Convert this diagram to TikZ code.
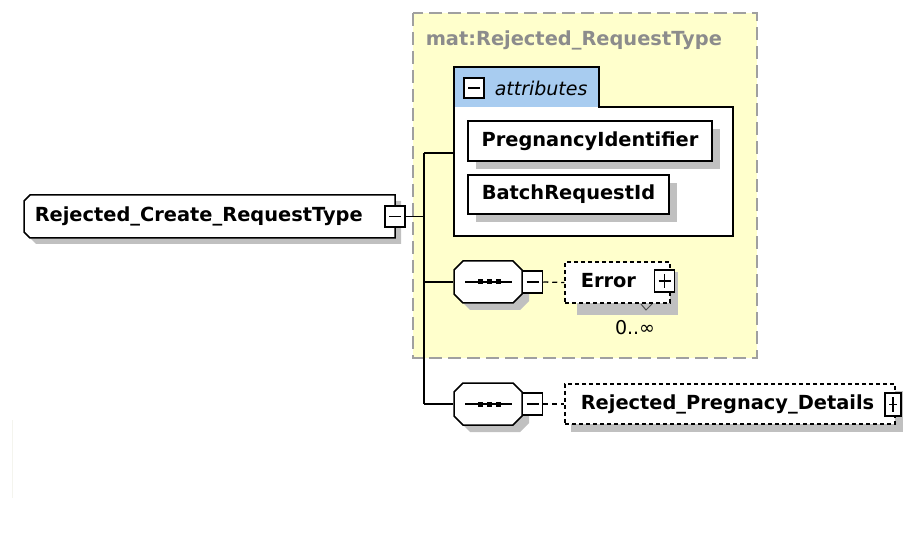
\documentclass[tikz,border=0pt]{standalone}
\usepackage{fontspec}
\setmainfont{DejaVu Sans}
\usetikzlibrary{calc}
\definecolor{ybg}{HTML}{FFFFCC}
\definecolor{tabblue}{HTML}{A8CCF0}
\definecolor{shade}{HTML}{C0C0C0}
\definecolor{bordgray}{HTML}{A0A0A0}
\definecolor{matgray}{HTML}{8C8C8C}
\definecolor{faint}{HTML}{F4F4EE}
\begin{document}
\begin{tikzpicture}[x=1pt,y=-1pt,line width=1.5pt,
  txt/.style={font=\fontsize{19.4}{22}\selectfont\bfseries, inner sep=0pt},
  shad/.style={fill=shade, draw=none},
  elbox/.style={txt, draw=black, fill=white, line width=1.5pt},
  dbox/.style={draw=black, fill=white, line width=1.3pt, dash pattern=on 4pt off 3pt},
  btnminus/.style={draw=black, fill=white, line width=1.5pt, minimum width=20pt, minimum height=21pt, inner sep=0pt,
    path picture={\draw[line width=1.7pt] ([xshift=4pt]path picture bounding box.west) -- ([xshift=-4pt]path picture bounding box.east);}},
  btnplus/.style={draw=black, fill=white, line width=1.5pt, minimum width=20pt, minimum height=21pt, inner sep=0pt,
    path picture={\draw[line width=1.7pt] ([xshift=4pt]path picture bounding box.west) -- ([xshift=-4pt]path picture bounding box.east);
                  \draw[line width=1.7pt] ([yshift=-4pt]path picture bounding box.north) -- ([yshift=4pt]path picture bounding box.south);}},
  hold/.style={inner sep=0pt, draw=none},
  conn/.style={draw=black, line width=1.5pt},
  dconn/.style={draw=black, line width=1.3pt, dash pattern=on 5pt off 4pt},
]
\useasboundingbox (0,0) rectangle (903,540);
\fill[white] (0,0) rectangle (903,540);
\draw[faint, line width=1pt] (12,420) -- (12,498);

% ---- type group background
\filldraw[fill=ybg, draw=bordgray, dash pattern=on 13pt off 6pt, line width=1.6pt] (413,13) rectangle (757,358);
\node[txt, text=matgray, anchor=west] (mat) at (425,40) {mat:Rejected\_RequestType};

% ---- root element
\fill[shad] (36,201) -- (401,201) -- (401,244) -- (36,244) -- (30,238) -- (30,207) -- cycle;
\draw[fill=white] (30,195) -- (395,195) -- (395,238) -- (30,238) -- (24,232) -- (24,201) -- cycle;
\node[txt, anchor=west] (root) at (34,216.5) {Rejected\_Create\_RequestType};
\node[btnminus] (rootbtn) at (395,216.5) {};

% ---- attributes
\fill[tabblue] (454,67) rectangle (599,107);
\fill[white] (454,107) rectangle (733,236);
\draw (454,236) -- (454,67) -- (599,67) -- (599,107) -- (733,107) -- (733,236) -- cycle;
\node[hold, minimum width=279pt, minimum height=169pt] (attrs) at (593.5,151.5) {};
\node[btnminus, minimum width=20pt, minimum height=20pt] (attrbtn) at (474,88) {};
\node[font=\fontsize{19}{22}\selectfont\itshape, inner sep=0pt, anchor=west] (attrlbl) at (494,88) {attributes};

\fill[shad] (476,129) rectangle (720,169);
\node[elbox, minimum width=244pt, minimum height=40pt] (pid) at (590,141) {PregnancyIdentifier};
\fill[shad] (476,183) rectangle (677,222);
\node[elbox, minimum width=201pt, minimum height=39pt] (bid) at (568.5,194.5) {BatchRequestId};

% ---- sequence 1
\fill[shad] (470,268) -- (520,268) -- (529,277) -- (529,301) -- (520,310) -- (470,310) -- (461,301) -- (461,277) -- cycle;
\draw[fill=white] (463,261) -- (513,261) -- (522,270) -- (522,294) -- (513,303) -- (463,303) -- (454,294) -- (454,270) -- cycle;
\node[hold, minimum width=68pt, minimum height=42pt] (seq1) at (488,282) {};
\draw[line width=1.3pt] (465,282) -- (512,282);
\foreach \xx in {480,489,498} \fill (\xx-2.5,279.5) rectangle +(5,5);
\node[btnminus, minimum height=22pt] (seq1btn) at (532.5,282) {};

% ---- Error (0..unbounded)
\fill[shad] (577,272) rectangle (678,315);
\node[dbox, minimum width=105pt, minimum height=41pt] (err) at (617.5,282.5) {};
\node[txt, anchor=west] (errlbl) at (580,281) {Error};
\node[btnplus, minimum width=20pt, minimum height=22pt] (errbtn) at (664.5,281) {};
\draw[line width=1pt, black!70] (641,304) -- (646,310) -- (652,304);
\node[font=\fontsize{19}{22}\selectfont, inner sep=0pt] (occ) at (635,328) {0..∞};

% ---- sequence 2
\fill[shad] (470,390) -- (520,390) -- (529,399) -- (529,423) -- (520,432) -- (470,432) -- (461,423) -- (461,399) -- cycle;
\draw[fill=white] (463,383) -- (513,383) -- (522,392) -- (522,416) -- (513,425) -- (463,425) -- (454,416) -- (454,392) -- cycle;
\node[hold, minimum width=68pt, minimum height=42pt] (seq2) at (488,404) {};
\draw[line width=1.3pt] (465,404) -- (512,404);
\foreach \xx in {480,489,498} \fill (\xx-2.5,401.5) rectangle +(5,5);
\node[btnminus, minimum height=22pt] (seq2btn) at (532.5,404) {};

% ---- Rejected_Pregnacy_Details
\fill[shad] (571,391) rectangle (903,432);
\node[dbox, minimum width=330pt, minimum height=40pt] (rpd) at (730,404) {};
\node[txt, anchor=west] (rpdlbl) at (580,404) {Rejected\_Pregnacy\_Details};
\node[btnplus, minimum width=16pt, minimum height=23pt] (rpdbtn) at (893,404.5) {};

% ---- connectors
\coordinate (vtop) at (424,153);
\coordinate (vroot) at (424,216.5);
\coordinate (vseq1) at (424,282);
\coordinate (vbot) at (424,404);
\draw[conn] (vtop) -- (vbot);
\draw[conn] (rootbtn.east) -- (vroot);
\draw[conn] (vtop) -- (vtop -| attrs.west);
\draw[conn] (vseq1) -- (seq1.west);
\draw[conn] (vbot) -- (seq2.west);
\draw[dconn] (seq1btn.east) -- (err.west);
\draw[dconn] (seq2btn.east) -- (rpd.west);
\end{tikzpicture}
\end{document}
